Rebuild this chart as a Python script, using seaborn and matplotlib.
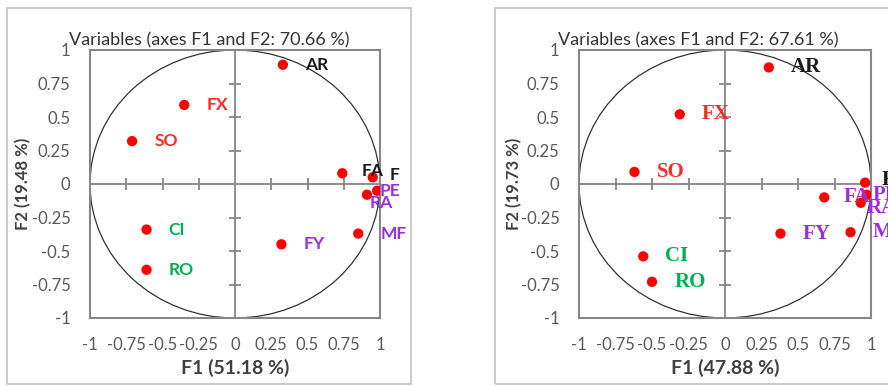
import matplotlib.pyplot as plt
import matplotlib.patches as mpatches
import seaborn as sns
import pandas as pd

# Panel 1: variable coordinates on F1 / F2
variables_1 = ["AR", "FX", "SO", "CI", "RO", "FY", "MF", "FA", "F", "PE", "RA"]
f1_1 = [0.33, -0.35, -0.71, -0.61, -0.61, 0.32, 0.85, 0.74, 0.95, 0.98, 0.91]
f2_1 = [0.89, 0.59, 0.32, -0.34, -0.64, -0.45, -0.37, 0.08, 0.05, -0.05, -0.08]
groups_1 = ["k", "r", "r", "g", "g", "p", "p", "k", "k", "p", "p"]

# Panel 2
variables_2 = ["AR", "FX", "SO", "CI", "RO", "FY", "MF", "FA", "F", "PE", "RA"]
f1_2 = [0.30, -0.31, -0.62, -0.56, -0.50, 0.38, 0.86, 0.68, 0.96, 0.97, 0.93]
f2_2 = [0.87, 0.52, 0.09, -0.54, -0.73, -0.37, -0.36, -0.10, 0.01, -0.08, -0.14]
groups_2 = ["k", "r", "r", "g", "g", "p", "p", "p", "k", "p", "p"]

titles = ["Variables (axes F1 and F2: 70.66 %)", "Variables (axes F1 and F2: 67.61 %)"]
xlabels = ["F1 (51.18 %)", "F1 (47.88 %)"]
ylabels = ["F2 (19.48 %)", "F2 (19.73 %)"]

ticks = [-1, -0.75, -0.5, -0.25, 0, 0.25, 0.5, 0.75, 1]
tick_labels = ["-1", "-0.75", "-0.5", "-0.25", "0", "0.25", "0.5", "0.75", "1"]

label_colors = {"k": "#1a1a1a", "r": "#ff2a2a", "g": "#00b050", "p": "#9b30d9"}
grey = "#868686"

W, H = 888, 386


def draw_panel(ax, names, xs, ys, groups, title, xlabel, ylabel, label_font, label_size, nudges):
    datos = pd.DataFrame({"name": names, "F1": xs, "F2": ys, "group": groups})

    ax.set_xlim(-1, 1)
    ax.set_ylim(-1, 1)

    # zero lines with cross ticks
    ax.axhline(0, color=grey, lw=1.3, zorder=1)
    ax.axvline(0, color=grey, lw=1.3, zorder=1)
    inner = [t for t in ticks if t not in (-1, 0, 1)]
    ax.plot(inner, [0] * len(inner), ls="none", marker="|", ms=8, mew=1.3, color=grey, zorder=1)
    ax.plot([0] * len(inner), inner, ls="none", marker="_", ms=8, mew=1.3, color=grey, zorder=1)

    ax.add_patch(mpatches.Circle((0, 0), 1, fill=False, ec="#333333", lw=0.9, zorder=2))

    sns.scatterplot(data=datos, x="F1", y="F2", color="#ff0000", s=55,
                    edgecolor="none", legend=False, ax=ax, zorder=3)

    for _, fila in datos.iterrows():
        dx, dy = nudges.get(fila["name"], (16, 0))
        ax.annotate(fila["name"], (fila["F1"], fila["F2"]), textcoords="offset points",
                    xytext=(dx, dy), ha="left", va="center", fontsize=label_size, fontweight="bold",
                    color=label_colors[fila["group"]], annotation_clip=False,
                    clip_on=False, zorder=4, **label_font)

    ax.set_xticks(ticks)
    ax.set_xticklabels(tick_labels)
    ax.set_yticks(ticks)
    ax.set_yticklabels(tick_labels)
    ax.tick_params(length=0, pad=14, labelsize=12, labelcolor="#595959")
    for s in ax.spines.values():
        s.set_color(grey)
        s.set_linewidth(1.5)

    ax.text(0.41, 1.037, title, transform=ax.transAxes, ha="center", va="center",
            fontsize=13, color="#333333", clip_on=False)
    ax.set_xlabel(xlabel, fontsize=14, fontweight="bold", color="#404040")
    ax.set_ylabel(ylabel, fontsize=12, fontweight="bold", color="#404040")
    ax.xaxis.label.set_va("center")
    ax.yaxis.label.set_va("center")
    ax.xaxis.set_label_coords(0.5, -0.187)


sns.set_theme(style="white")
plt.rcParams["font.family"] = ["Lato", "DejaVu Sans"]

fig = plt.figure(figsize=(W / 100, H / 100), dpi=100)
fig.patch.set_facecolor("white")

# outer frames
fig.add_artist(mpatches.Rectangle((7 / W, 2 / H), 404 / W, 376 / H, transform=fig.transFigure,
                                  fill=False, ec="#c0c0c0", lw=1.2))
fig.add_artist(mpatches.Rectangle((495 / W, 2 / H), 420 / W, 376 / H, transform=fig.transFigure,
                                  fill=False, ec="#c0c0c0", lw=1.2))

ax1 = fig.add_axes([90 / W, 1 - 318 / H, 290 / W, 268 / H])
ax2 = fig.add_axes([579 / W, 1 - 318 / H, 292 / W, 268 / H])

draw_panel(ax1, variables_1, f1_1, f2_1, groups_1, titles[0], xlabels[0], ylabels[0],
           {"family": ["Lato", "DejaVu Sans"]}, 12.5,
           {"PE": (2, 0), "RA": (2, -6), "F": (12, 2), "FA": (14, 2)})
ax1.yaxis.set_label_coords(-0.231, 0.5)

draw_panel(ax2, variables_2, f1_2, f2_2, groups_2, titles[1], xlabels[1], ylabels[1],
           {"family": ["Liberation Serif", "DejaVu Serif"]}, 15,
           {"PE": (4, 0), "RA": (4, -4), "F": (12, 2), "FA": (14, 0)})
ax2.yaxis.set_label_coords(-0.223, 0.5)

fig.savefig("out.png", dpi=100)
plt.close(fig)
